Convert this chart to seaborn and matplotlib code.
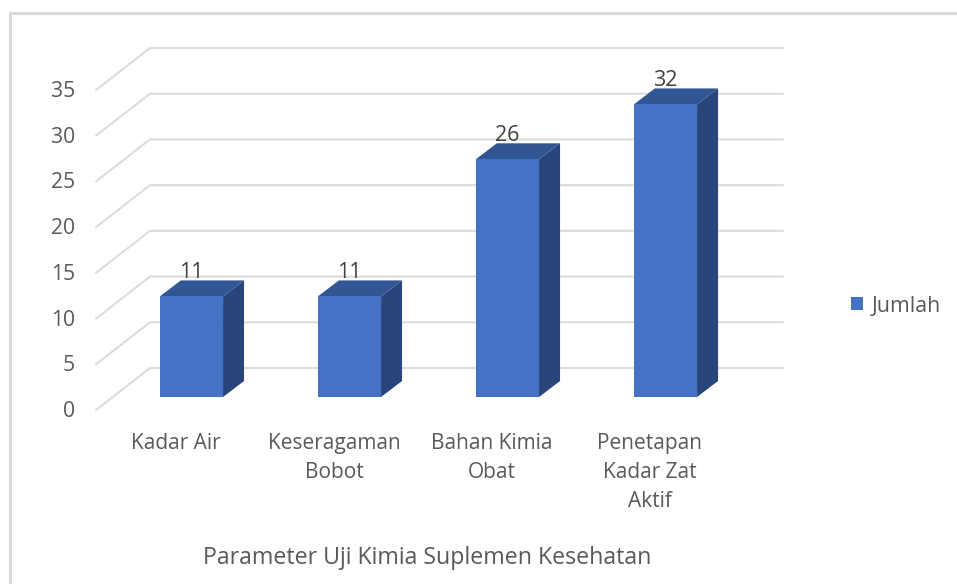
import matplotlib
matplotlib.use('Agg')
import matplotlib.pyplot as plt
import matplotlib.transforms as mtrans
from matplotlib.lines import Line2D
from matplotlib.patches import Polygon
import pandas as pd
import seaborn as sns

categories = ['Kadar Air', 'Keseragaman\nBobot', 'Bahan Kimia\nObat', 'Penetapan\nKadar Zat\nAktif']
jumlah = [11, 11, 26, 32]
y_ticks = [0, 5, 10, 15, 20, 25, 30, 35]
series_name = 'Jumlah'
x_title = 'Parameter Uji Kimia Suplemen Kesehatan'

W, H = 957, 584
# axes = front plane of the bars, in pixels of the picture
LEFT, RIGHT, BASE, TOP = 96, 783, 397, 77
PX_X = (RIGHT - LEFT) / 4.348   # pixels for one category
PX_Y = (BASE - TOP) / 35        # pixels for one unit

TXT = '#595959'
GRID = '#dcdcdc'
BLUE = '#4472C4'
BLUE_TOP = '#325593'
BLUE_SIDE = '#29467C'

sns.set_theme(style='white')
plt.rcParams['font.family'] = ['Open Sans', 'DejaVu Sans']

fig = plt.figure(figsize=(W / 100, H / 100), dpi=100, facecolor='white')
ax = fig.add_axes([LEFT / W, 1 - BASE / H, (RIGHT - LEFT) / W, (BASE - TOP) / H])
ax.patch.set_alpha(0)

df = pd.DataFrame({'parametro': categories, 'valor': jumlah})
sns.barplot(data=df, x='parametro', y='valor', color=BLUE, saturation=1, width=0.4,
            label=series_name, linewidth=0, edgecolor='none', ax=ax, zorder=3)
ax.set_xlim(-0.604, 3.744)
ax.set_ylim(0, 35)

# paredes: lineas de la pared de atras + lineas laterales
x0 = ax.get_xlim()[0]
x1 = ax.get_xlim()[1]
back_x = x0 + 54 / PX_X
for t in y_ticks:
    back_y = t + 29 / PX_Y
    front_y = t - 13 / PX_Y
    ax.plot([x0, back_x, x1], [front_y, back_y, back_y], color=GRID, lw=1.5,
            clip_on=False, zorder=1, solid_joinstyle='miter')

# caras 3D de las barras
dx = 21 / PX_X
dy = 16 / PX_Y
for bar, val in zip(list(ax.patches), jumlah):
    xl = bar.get_x()
    xr = xl + bar.get_width()
    side = [(xr, 0), (xr + dx, dy), (xr + dx, val + dy), (xr, val)]
    top = [(xl, val), (xl + dx, val + dy), (xr + dx, val + dy), (xr, val)]
    ax.add_patch(Polygon(side, closed=True, fc=BLUE_SIDE, ec='none', zorder=2.5, clip_on=False))
    ax.add_patch(Polygon(top, closed=True, fc=BLUE_TOP, ec='none', zorder=2.5, clip_on=False))
    ax.text(xl + bar.get_width() / 2, val + dy + 2 / PX_Y, str(val), ha='center', va='baseline',
            fontsize=15.5, color='#404040', zorder=4)

sns.despine(ax=ax, left=True, bottom=True)
ax.set_ylabel('')
ax.set_yticks(y_ticks)
ax.tick_params(axis='both', length=0)
ax.tick_params(axis='y', pad=15, labelsize=15.2, labelcolor=TXT)
ax.tick_params(axis='x', pad=26, labelsize=15, labelcolor=TXT)
ax.set_xticks(range(len(categories)))
ax.set_xticklabels(categories, linespacing=1.5)
# los numeros del eje van mas abajo que el plano de las barras
shift_y = mtrans.ScaledTranslation(0, -12 / 100, fig.dpi_scale_trans)
for lab in ax.get_yticklabels():
    lab.set_transform(lab.get_transform() + shift_y)
# y los nombres de categoria un poco a la izquierda
shift_x = mtrans.ScaledTranslation(-15.5 / 100, 0, fig.dpi_scale_trans)
for lab in ax.get_xticklabels():
    lab.set_transform(lab.get_transform() + shift_x)

ax.set_xlabel(x_title, fontsize=16.7, color=TXT, va='center')
ax.xaxis.set_label_coords((427.5 - LEFT) / (RIGHT - LEFT), -(558 - BASE) / (BASE - TOP))

leg = ax.legend(loc='center left', bbox_to_anchor=(851 / W, 1 - 306 / H),
                bbox_transform=fig.transFigure, frameon=False, fontsize=15.4,
                handlelength=0.55, handleheight=0.55, handletextpad=0.4,
                borderaxespad=0, borderpad=0)
for t in leg.get_texts():
    t.set_color(TXT)

# marco del grafico
fig.add_artist(Line2D([9.5 / W, 9.5 / W, 1], [0, 1 - 13 / H, 1 - 13 / H],
                      color='#d9d9d9', lw=2.2, solid_joinstyle='miter'))

fig.savefig('out.png', dpi=100)
